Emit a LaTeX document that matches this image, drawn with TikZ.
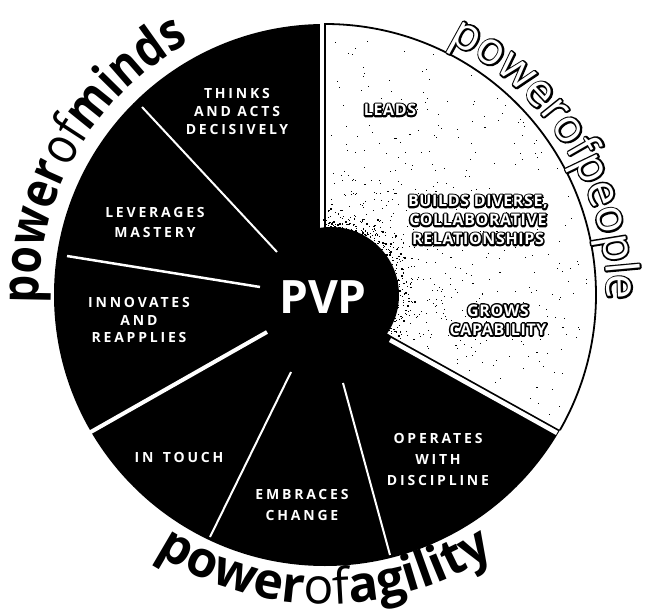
\documentclass[tikz,border=0pt]{standalone}
\usepackage{fontspec}
\setmainfont{Open Sans}
\newfontfamily\arcF[FakeStretch=0.85]{Open Sans}
\newfontfamily\arcP{Open Sans}
\newfontfamily\labF[LetterSpace=20]{Open Sans}
\newfontfamily\olF[LetterSpace=4]{Open Sans}
\usetikzlibrary{decorations.text}
\newcommand\fMB{\arcF\bfseries\fontsize{52}{52}\selectfont}
\newcommand\fMR{\arcF\mdseries\fontsize{52}{52}\selectfont}
\newcommand\fAB{\arcP\bfseries\fontsize{50}{50}\selectfont}
\newcommand\fAR{\arcP\mdseries\fontsize{50}{50}\selectfont}
\newcommand\fPR{\arcP\mdseries\fontsize{45}{45}\selectfont}
% fill-and-stroke text rendering, used for the black under-copy of hollow letters
\newcommand\outlon{\special{pdf:code 2 Tr 3.2 w 1 j 1 J}}
\newcommand\outlarc{\special{pdf:code 2 Tr 3.4 w 1 j 1 J}}
\newcommand\outloff{\special{pdf:code 0 Tr}}
\tikzset{
  lab/.style={text=white, font=\labF\bfseries\fontsize{14}{#1}\selectfont, align=center, inner sep=0pt},
  lab/.default=19,
  olab/.style={font=\olF\bfseries\fontsize{16}{19}\selectfont, align=center, inner sep=0pt},
  divider/.style={draw=white, line width=#1},
  speck/.style={fill=black},
}
\newcommand\olabel[3]{%
  \node[olab, text=black] at (#2) {\outlon #3};
  \node[olab, text=white] (#1) at (#2) {\outloff #3};
}
\begin{document}
\begin{tikzpicture}[x=1pt,y=1pt]
\useasboundingbox (0,0) rectangle (645,614);
\fill[white] (0,0) rectangle (645,614);
\begin{scope}[shift={(325,319)}]
  % white sector
  \fill[white] (0,0) -- (90:271) arc[start angle=90,end angle=-31,radius=271] -- cycle;
  % speckles
  \pgfmathsetseed{7}
  \foreach \i in {1,...,520}{
    \pgfmathsetmacro\ang{-28+116*rnd}
    \pgfmathsetmacro\rad{66+198*rnd^1.4}
    \pgfmathsetmacro\sz{0.4+0.9*rnd}
    \fill[speck] (\ang:\rad) rectangle ++(\sz,0.8*\sz);
  }
  % black sector
  \fill[black] (0,0) -- (90:271) arc[start angle=90,end angle=330.1,radius=271] -- (67,-41.5) -- cycle;
  % outline of the white sector
  \draw[line width=1.8] (0,0) -- (90:271) arc[start angle=90, end angle=-29.9, radius=271];
  % dividers
  \draw[divider=4]   (-3,60) -- (-3,270.5);
  \draw[divider=2]   (-183,188) -- (-48,43);
  \draw[divider=2.5] (-258,39) -- (-65,8);
  \draw[divider=4]   (-236,-138) -- (-58,-37);
  \draw[divider=2]   (-115,-242) -- (-34,-77);
  \draw[divider=2]   (65,-260) -- (18,-88);
  \draw[divider=4.5] (65,-45) -- (232,-138);
  % central blob
  \fill[black] (6,0) circle (68);
  \foreach \i in {1,...,600}{
    \pgfmathsetmacro\ang{-32+124*rnd}
    \pgfmathsetmacro\rad{60+36*rnd*rnd}
    \pgfmathsetmacro\sz{0.6+1.2*rnd}
    \fill[speck] (\ang:\rad) rectangle ++(\sz,\sz);
  }
  \node[text=white, font=\bfseries\fontsize{46}{46}\selectfont, inner sep=0pt] (pvp) at (-2,-2) {PVP};
  % labels on black
  \node[lab=18]   (thinks) at (-88,183) {THINKS\\AND ACTS\\DECISIVELY};
  \node[lab=20]   (lever)  at (-170,72) {LEVERAGES\\MASTERY};
  \node[lab=17.5] (innov)  at (-186,-25) {INNOVATES\\AND\\REAPPLIES};
  \node[lab]      (touch)  at (-146,-162) {IN\hspace{3pt} TOUCH};
  \node[lab=21]   (embr)   at (-23,-210) {EMBRACES\\CHANGE};
  \node[lab=21]   (oper)   at (113,-164) {OPERATES\\WITH\\DISCIPLINE};
  % arc titles
  \path[decorate, decoration={text along path, text align=center,
      text={|\fMB|power|\fMR|of|\fMB|minds}}]
    (185:286) arc[start angle=185, end angle=115, radius=286];
  \path[decorate, decoration={text along path, text align=center,
      text={|\fAB|power|\fAR|of|\fAB|agility}}]
    (225:309) arc[start angle=225, end angle=315, radius=309];
  % hollow texts (black fattened copy, then white copy)
  \path[decorate, decoration={text along path, text align=center,
      text color=black, text={|\fPR\outlarc|powerofpeople}}]
    (72:282) arc[start angle=72, end angle=-9, radius=282];
  \path[decorate, decoration={text along path, text align=center,
      text color=white, text={|\fPR\outloff|powerofpeople}}]
    (72:282) arc[start angle=72, end angle=-9, radius=282];
  \olabel{leads}{65,185}{LEADS}
  \olabel{builds}{153,75}{BUILDS DIVERSE,\\COLLABORATIVE\\RELATIONSHIPS}
  \olabel{grows}{173,-25}{GROWS\\CAPABILITY}
\end{scope}
\end{tikzpicture}
\end{document}
